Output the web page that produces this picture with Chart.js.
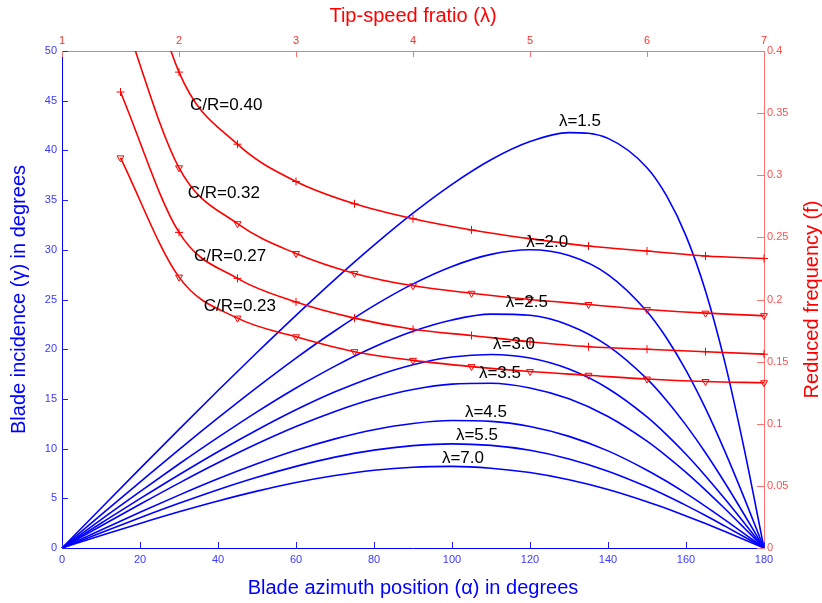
<!DOCTYPE html>
<html><head><meta charset="utf-8">
<script src="https://cdn.jsdelivr.net/npm/chart.js@4"></script>
<style>html,body{margin:0;padding:0;background:#fff}canvas{display:block}</style>
</head><body>
<canvas id="c" width="822" height="603"></canvas>
<script>
// ---- Blue family: blade incidence (gamma, deg) vs azimuth (alpha, deg) ----
const alphaDeg = [0,10,20,30,40,50,60,70,80,90,100,110,120,130,140,150,155,160,165,170,175,180];
const gamma_l15 = [0,4.00,7.98,11.93,15.84,19.67,23.41,27.03,30.47,33.69,36.59,39.06,40.89,41.79,41.21,38.26,35.44,31.40,25.86,18.62,9.82,0];
const gamma_l20 = [0,3.33,6.63,9.90,13.08,16.16,19.11,21.86,24.38,26.57,28.33,29.54,30.00,29.43,27.51,23.79,21.13,17.88,14.05,9.70,4.97,0];
const gamma_l25 = [0,2.85,5.68,8.45,11.13,13.70,16.10,18.30,20.22,21.80,22.94,23.53,23.41,22.42,20.34,17.01,14.85,12.36,9.58,6.54,3.32,0];
const gamma_l30 = [0,2.49,4.96,7.37,9.69,11.87,13.90,15.71,17.24,18.43,19.21,19.47,19.11,18.00,16.05,13.19,11.41,9.43,7.25,4.92,2.49,0];
const gamma_l35 = [0,2.22,4.40,6.53,8.57,10.48,12.22,13.74,15.01,15.95,16.49,16.57,16.10,15.01,13.23,10.75,9.25,7.61,5.83,3.95,1.99,0];
const gamma_l45 = [0,1.81,3.60,5.32,6.96,8.47,9.83,10.98,11.90,12.53,12.82,12.74,12.22,11.23,9.77,7.83,6.71,5.49,4.19,2.83,1.43,0];
const gamma_l55 = [0,1.53,3.04,4.49,5.86,7.11,8.21,9.14,9.85,10.30,10.48,10.32,9.83,8.96,7.73,6.16,5.26,4.29,3.27,2.20,1.11,0];
const gamma_l70 = [0,1.25,2.47,3.64,4.73,5.72,6.59,7.29,7.82,8.13,8.21,8.03,7.59,6.87,5.89,4.66,3.97,3.23,2.46,1.65,0.83,0];
const lambdaNames = ['λ=1.5','λ=2.0','λ=2.5','λ=3.0','λ=3.5','λ=4.5','λ=5.5','λ=7.0'];

// ---- Red family: reduced frequency (f) vs tip-speed ratio (lambda) ----
const lambdaTSR = [1.5,2,2.5,3,3.5,4,4.5,5,5.5,6,6.5,7];
const f_cr40 = [0.545,0.383,0.325,0.295,0.277,0.265,0.256,0.249,0.243,0.239,0.235,0.233];
const f_cr32 = [0.435,0.306,0.261,0.237,0.221,0.211,0.205,0.200,0.196,0.192,0.189,0.187];
const f_cr27 = [0.367,0.254,0.217,0.198,0.185,0.176,0.171,0.166,0.162,0.160,0.158,0.156];
const f_cr23 = [0.314,0.218,0.185,0.170,0.158,0.151,0.146,0.142,0.139,0.136,0.134,0.133];
const crNames = ['C/R=0.40','C/R=0.32','C/R=0.27','C/R=0.23'];

// ---- Tick labels ----
const alphaTicks = [0,20,40,60,80,100,120,140,160,180];
const gammaTicks = [0,5,10,15,20,25,30,35,40,45,50];
const lambdaTicks = [1,2,3,4,5,6,7];
const freqTicks = [0,0.05,0.1,0.15,0.2,0.25,0.3,0.35,0.4];
const freqTickLabels = ['0','0.05','0.1','0.15','0.2','0.25','0.3','0.35','0.4'];

// ---- Text annotations (anchored in alpha/gamma data units) ----
const lambdaLabelAt = [[132.8,42.9],[124.4,30.8],[119.2,24.7],[115.9,20.5],[112.3,17.6],[108.7,13.7],[106.4,11.3],[102.8,9.05]];
const crLabelAt = [[42.1,44.5],[41.5,35.7],[43.1,29.3],[45.6,24.3]];

const BLUE = '#0000ff', RED = '#ff0000', PINK = '#ff7070';
const tickFont = {family: "'Liberation Sans Narrow','Liberation Sans',Arial,sans-serif", size: 11};
const titleFam = "'Liberation Sans',Arial,sans-serif";
const fixedTicks = arr => s => { s.ticks = arr.map(v => ({value: v})); };

const blueSeries = [gamma_l15,gamma_l20,gamma_l25,gamma_l30,gamma_l35,gamma_l45,gamma_l55,gamma_l70];
const redSeries = [f_cr40,f_cr32,f_cr27,f_cr23];
const markerStyle = ['cross','triangle','cross','triangle'];
const markerRot = [0,180,0,180];

const datasets = [];
redSeries.forEach((arr,i) => datasets.push({
  data: lambdaTSR.map((l,j) => ({x:l, y:arr[j]})),
  xAxisID:'x2', yAxisID:'y2',
  borderColor: RED, borderWidth: 1.6, fill:false,
  pointStyle: markerStyle[i], rotation: markerRot[i], pointRadius: 4, pointBorderWidth: 1,
  pointBackgroundColor: 'rgba(0,0,0,0)', pointBorderColor: RED,
  cubicInterpolationMode: 'monotone', clip: {left:5, top:0, right:8, bottom:5}, order: 0
}));
blueSeries.forEach(arr => datasets.push({
  data: alphaDeg.map((a,j) => ({x:a, y:arr[j]})),
  xAxisID:'x', yAxisID:'y',
  borderColor: BLUE, borderWidth: 1.6, fill:false, pointRadius: 0,
  cubicInterpolationMode: 'monotone', clip: {left:2, top:0, right:2, bottom:2}, order: 1
}));

const inwardTicks = {
  id: 'inwardTicks',
  afterDatasetsDraw(chart) {
    const {ctx, chartArea: a, scales} = chart;
    const spec = [['x','#2020ff',6],['y','#2020ff',6],['x2',PINK,6],['y2',PINK,7]];
    ctx.save(); ctx.lineWidth = 1;
    for (const [id, col, len] of spec) {
      const s = scales[id]; ctx.strokeStyle = col; ctx.beginPath();
      for (const t of s.ticks) {
        const p = Math.round(s.getPixelForValue(t.value)) + 0.5;
        if (id === 'x') { ctx.moveTo(p, a.bottom); ctx.lineTo(p, a.bottom - len); }
        else if (id === 'x2') { ctx.moveTo(p, a.top); ctx.lineTo(p, a.top + len); }
        else if (id === 'y') { ctx.moveTo(a.left, p); ctx.lineTo(a.left + len, p); }
        else { ctx.moveTo(a.right, p); ctx.lineTo(a.right - len, p); }
      }
      ctx.stroke();
    }
    ctx.restore();
  }
};

const textLabels = {
  id: 'textLabels',
  afterDraw(chart) {
    const {ctx, scales} = chart;
    ctx.save();
    ctx.fillStyle = '#000';
    ctx.font = "17px " + titleFam;
    ctx.textAlign = 'center'; ctx.textBaseline = 'middle';
    lambdaNames.forEach((t,i) => ctx.fillText(t, scales.x.getPixelForValue(lambdaLabelAt[i][0]), scales.y.getPixelForValue(lambdaLabelAt[i][1])));
    crNames.forEach((t,i) => ctx.fillText(t, scales.x.getPixelForValue(crLabelAt[i][0]), scales.y.getPixelForValue(crLabelAt[i][1])));
    // right-hand axis title, reading bottom-to-top
    ctx.fillStyle = RED;
    ctx.font = "20px " + titleFam;
    ctx.translate(812, (chart.chartArea.top + chart.chartArea.bottom) / 2);
    ctx.rotate(-Math.PI / 2);
    ctx.fillText('Reduced frequency (f)', 0, 0);
    ctx.restore();
  }
};

new Chart(document.getElementById('c'), {
  type: 'line',
  data: { datasets },
  plugins: [inwardTicks, textLabels],
  options: {
    responsive: false, animation: false, devicePixelRatio: 1,
    layout: { padding: 0 },
    plugins: { legend: {display:false}, tooltip: {enabled:false} },
    elements: { line: { tension: 0 } },
    scales: {
      x: {
        type:'linear', position:'bottom', min:0, max:180,
        afterBuildTicks: fixedTicks(alphaTicks),
        grid: {display:false, drawTicks:false},
        border: {display:true, color:BLUE, width:1},
        ticks: {color:'#3a3aff', font:tickFont, padding:5, maxRotation:0, autoSkip:false},
        title: {display:true, text:'Blade azimuth position (α) in degrees', color:BLUE, font:{family:titleFam, size:20}, padding:{top:0, bottom:3}},
        afterFit: s => { s.height = 55; }
      },
      y: {
        type:'linear', position:'left', min:0, max:50,
        afterBuildTicks: fixedTicks(gammaTicks),
        grid: {display:false, drawTicks:false},
        border: {display:true, color:BLUE, width:1},
        ticks: {color:'#3a3aff', font:tickFont, padding:5, autoSkip:false},
        title: {display:true, text:'Blade incidence (γ) in degrees', color:BLUE, font:{family:titleFam, size:20}, padding:{top:7, bottom:0}},
        afterFit: s => { s.width = 62; }
      },
      x2: {
        type:'linear', position:'top', min:1, max:7,
        afterBuildTicks: fixedTicks(lambdaTicks),
        grid: {display:false, drawTicks:false},
        border: {display:true, color:PINK, width:1},
        ticks: {color:'#ff3030', font:tickFont, padding:3, maxRotation:0, autoSkip:false},
        title: {display:true, text:'Tip-speed fratio (λ)', color:RED, font:{family:titleFam, size:20}, padding:{top:4, bottom:0}},
        afterFit: s => { s.height = 51; }
      },
      y2: {
        type:'linear', position:'right', min:0, max:0.4,
        afterBuildTicks: fixedTicks(freqTicks),
        grid: {display:false, drawTicks:false},
        border: {display:true, color:PINK, width:1},
        ticks: {color:'#ff5050', font:tickFont, padding:3, autoSkip:false, callback: (v,i) => freqTickLabels[i]},
        title: {display:false},
        afterFit: s => { s.width = 58; }
      }
    }
  }
});
</script>
</body></html>
